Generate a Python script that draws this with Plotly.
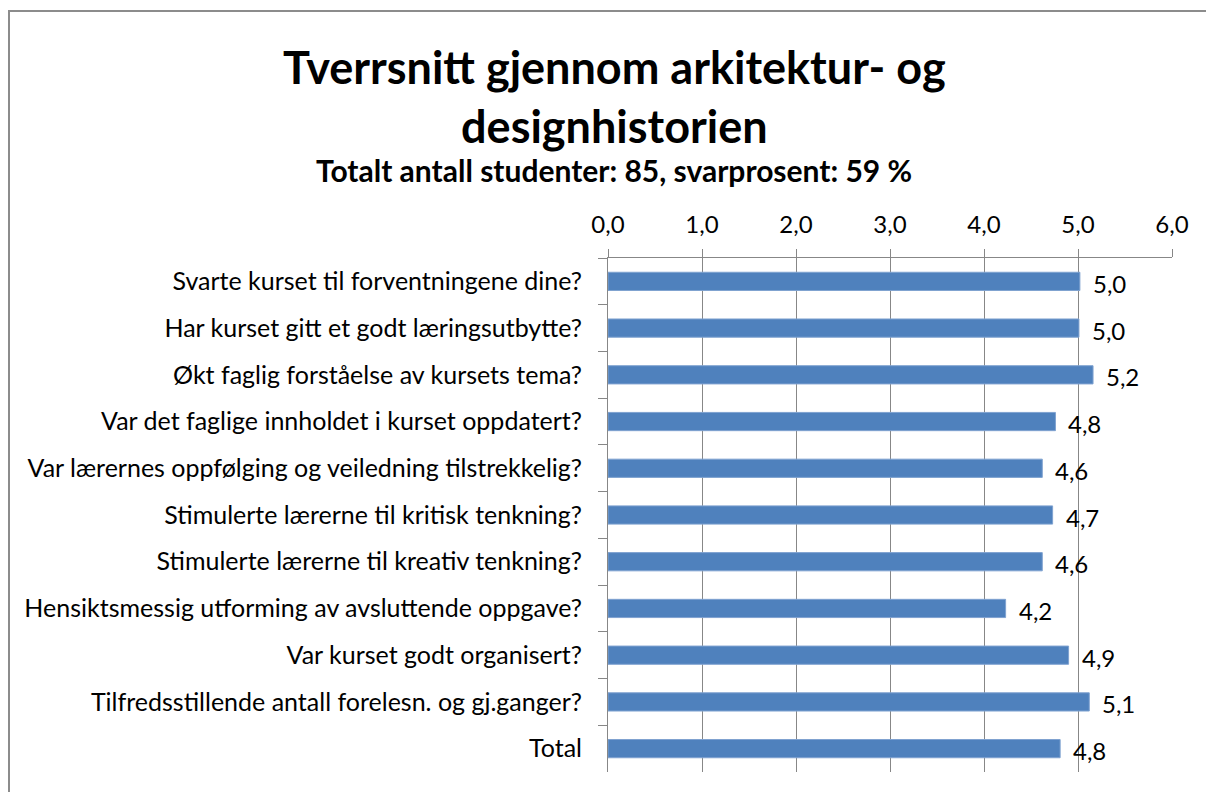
import plotly.graph_objects as go

categories = [
    "Svarte kurset til forventningene dine?",
    "Har kurset gitt et godt læringsutbytte?",
    "Økt faglig forståelse av kursets tema?",
    "Var det faglige innholdet i kurset oppdatert?",
    "Var lærernes oppfølging og veiledning tilstrekkelig?",
    "Stimulerte lærerne til kritisk tenkning?",
    "Stimulerte lærerne til kreativ tenkning?",
    "Hensiktsmessig utforming av avsluttende oppgave?",
    "Var kurset godt organisert?",
    "Tilfredsstillende antall forelesn. og gj.ganger?",
    "Total",
]
values = [5.02, 5.01, 5.16, 4.76, 4.62, 4.73, 4.62, 4.23, 4.90, 5.12, 4.81]
x_tick_vals = [0, 1, 2, 3, 4, 5, 6]

title_text = "Tverrsnitt gjennom arkitektur- og<br>designhistorien"
subtitle_text = "Totalt antall studenter: 85, svarprosent: 59 %"

FONT = "Lato"
BAR = "#4F81BD"
GRID = "#878787"

W, H = 1206, 792
L, R, T, B = 608, 1172, 258, 772


def px_x(p):
    return (p - L) / (R - L)


def px_y(p):
    return (B - p) / (B - T)


fig = go.Figure()
fig.add_trace(go.Bar(
    x=values,
    y=categories,
    orientation="h",
    marker=dict(color=BAR, line=dict(color="#7FA2D0", width=1)),
    width=0.39,
    hoverinfo="x+y",
))

for v, c in zip(values, categories):
    fig.add_annotation(
        x=v, y=c, xref="x", yref="y",
        text=f"{v:.1f}".replace(".", ","),
        showarrow=False, xanchor="left", yanchor="middle",
        xshift=11, yshift=-2,
        font=dict(family=FONT, size=24, color="#000000"),
    )

fig.add_annotation(
    x=px_x(614), y=px_y(38), xref="paper", yref="paper",
    text=f"<b>{title_text}</b>", showarrow=False,
    xanchor="center", yanchor="top",
    font=dict(family=FONT, size=45, color="#000000"),
)

fig.add_annotation(
    x=px_x(614), y=px_y(170), xref="paper", yref="paper",
    text=f"<b>{subtitle_text}</b>", showarrow=False,
    xanchor="center", yanchor="middle",
    font=dict(family=FONT, size=30, color="#000000"),
)

fig.add_shape(
    type="rect", xref="paper", yref="paper",
    x0=px_x(9), x1=px_x(1230), y0=px_y(820), y1=px_y(11),
    line=dict(color="#8C8C8C", width=2), layer="below",
)

fig.update_layout(
    width=W, height=H,
    margin=dict(l=L, r=W - R, t=T, b=H - B),
    paper_bgcolor="white", plot_bgcolor="white",
    separators=", ",
    showlegend=False,
    font=dict(family=FONT, size=24, color="#000000"),
    xaxis=dict(
        side="top", range=[0, 6], tickvals=x_tick_vals, tickformat=".1f",
        showgrid=True, gridcolor=GRID, gridwidth=1,
        showline=True, linecolor=GRID, linewidth=1,
        ticks="outside", ticklen=8, tickcolor=GRID,
        tickfont=dict(family=FONT, size=24, color="#000000"),
        ticklabelstandoff=6,
        zeroline=False, fixedrange=True,
    ),
    yaxis=dict(
        autorange="reversed",
        showline=True, linecolor=GRID, linewidth=1,
        ticks="outside", ticklen=9, tickcolor=GRID, tickson="boundaries",
        tickfont=dict(family=FONT, size=25, color="#000000"),
        ticklabelstandoff=20,
        showgrid=False, fixedrange=True,
    ),
    bargap=0.6,
)

fig.write_html(
    "out.html",
    config={"displayModeBar": False},
    post_script="document.body.style.margin='0';document.body.style.overflow='hidden';",
)
